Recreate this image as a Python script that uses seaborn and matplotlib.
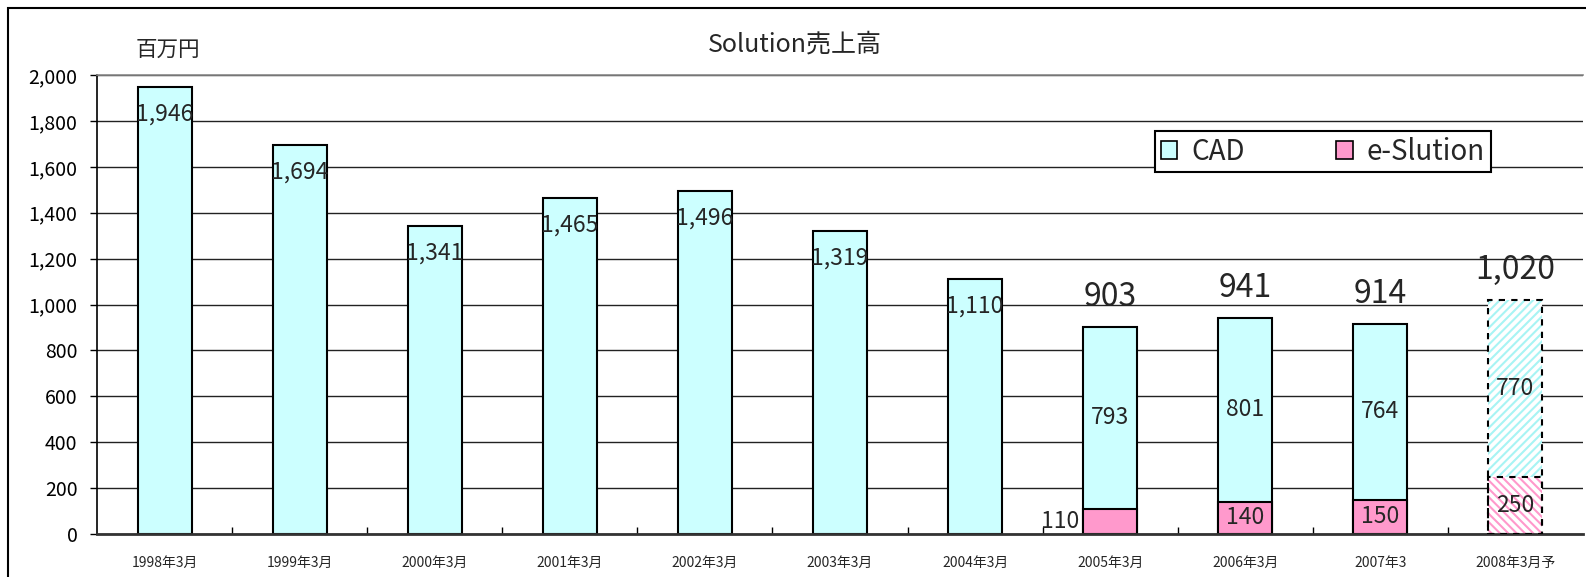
import matplotlib
matplotlib.use("Agg")
import matplotlib.pyplot as plt
import matplotlib.ticker as mticker
from matplotlib.patches import Patch, Rectangle
import seaborn as sns

# data (百万円)
periods = ["1998年3月", "1999年3月", "2000年3月", "2001年3月", "2002年3月", "2003年3月",
           "2004年3月", "2005年3月", "2006年3月", "2007年3", "2008年3月予"]
cad = [1946, 1694, 1341, 1465, 1496, 1319, 1110, 793, 801, 764, 770]
esol_periods = ["2005年3月", "2006年3月", "2007年3", "2008年3月予"]
esol = [110, 140, 150, 250]
total_periods = ["2005年3月", "2006年3月", "2007年3", "2008年3月予"]
totals = [903, 941, 914, 1020]

CAD_COLOR = "#CCFFFF"
ESOL_COLOR = "#FF99CC"

sns.set_theme(style="white")
plt.rcParams["font.family"] = ["Noto Sans CJK JP", "DejaVu Sans"]
plt.rcParams["hatch.linewidth"] = 1.5

# stacked height = cad + esol (esol is 0 where not listed)
esol_map = dict(zip(esol_periods, esol))
stack = [c + esol_map.get(p, 0) for p, c in zip(periods, cad)]

fig = plt.figure(figsize=(15.86, 5.77), dpi=100)
ax = fig.add_axes([97 / 1586, 1 - 534 / 577, 1486 / 1586, 459 / 577])

sns.barplot(x=periods, y=stack, order=periods, color=CAD_COLOR, saturation=1,
            width=0.4, edgecolor="black", linewidth=1.5, ax=ax)
sns.barplot(x=esol_periods, y=esol, order=periods, color=ESOL_COLOR, saturation=1,
            width=0.4, edgecolor="black", linewidth=1.5, ax=ax)

# forecast bar (last one): hatched, dashed outline
cad_bars = ax.containers[0]
esol_bars = ax.containers[1]
for bar, hc, hatch in [(cad_bars[-1], "#A8F4F4", "////"), (esol_bars[-1], "#FF99CC", "\\\\\\\\")]:
    bar.set_facecolor("white")
    bar.set_edgecolor(hc)
    bar.set_hatch(hatch)
    bar.set_linewidth(0)
    ax.add_patch(Rectangle(bar.get_xy(), bar.get_width(), bar.get_height(), fill=False,
                           edgecolor="black", linestyle=(0, (3, 3)), linewidth=1.5, zorder=5))

ax.set_ylim(0, 2000)
ax.set_xlim(-0.5, len(periods) - 0.5)
ax.set_yticks(range(0, 2001, 200))
ax.yaxis.set_major_formatter(mticker.StrMethodFormatter("{x:,.0f}"))
ax.grid(axis="y", color="#222222", linewidth=1)
ax.set_axisbelow(True)

ax.spines["right"].set_visible(False)
ax.spines["top"].set_color("#888888")
ax.spines["top"].set_linewidth(1.2)
ax.spines["left"].set_color("black")
ax.spines["left"].set_linewidth(1.2)
ax.spines["bottom"].set_color("#333333")
ax.spines["bottom"].set_linewidth(2)

ax.tick_params(axis="y", which="major", left=True, length=5, width=1, direction="out",
               labelsize=14, pad=9, colors="black")
ax.tick_params(axis="x", which="major", length=0, labelsize=10, pad=16)
ax.set_xticks(range(len(periods)))
ax.set_xticklabels(periods)
ax.set_xticks([i + 0.5 for i in range(len(periods) - 1)], minor=True)
ax.tick_params(axis="x", which="minor", bottom=True, length=5, width=1, direction="in",
               color="black")
ax.set_xlabel("")
ax.set_ylabel("")

# CAD labels: inside top for single bars, centered for stacked bars
for i, (p, c) in enumerate(zip(periods, cad)):
    e = esol_map.get(p, 0)
    if e == 0:
        ax.annotate(f"{c:,}", (i, c), xytext=(0, -27), textcoords="offset pixels",
                    ha="center", va="center", fontsize=16.5)
    else:
        ax.text(i, e + c / 2, f"{c:,}", ha="center", va="center", fontsize=16.5)

# e-Slution labels
for p, e in zip(esol_periods, esol):
    i = periods.index(p)
    if e < 120:
        ax.annotate(f"{e:,}", (i - 0.2, e / 2), xytext=(-4, 0), textcoords="offset pixels",
                    ha="right", va="center", fontsize=16.5)
    else:
        ax.text(i, e / 2, f"{e:,}", ha="center", va="center", fontsize=16.5)

# totals above stacked bars
for p, t in zip(total_periods, totals):
    i = periods.index(p)
    ax.annotate(f"{t:,}", (i, t), xytext=(0, 30), textcoords="offset pixels",
                ha="center", va="center", fontsize=23)

handles = [Patch(facecolor=CAD_COLOR, edgecolor="black", linewidth=1.2, label="CAD"),
           Patch(facecolor=ESOL_COLOR, edgecolor="black", linewidth=1.2, label="e-Slution")]
leg = fig.legend(handles=handles, loc="upper left", bbox_to_anchor=(1155 / 1586, 1 - 131 / 577),
                 ncol=2, fontsize=20, frameon=True, fancybox=False, handlelength=0.6,
                 handleheight=0.6, handletextpad=0.5, columnspacing=3.3, borderpad=0.2,
                 borderaxespad=0)
leg.get_frame().set_edgecolor("black")
leg.get_frame().set_linewidth(1.5)
leg.get_frame().set_alpha(1)

fig.text(795 / 1586, 1 - 45 / 577, "Solution売上高", ha="center", va="center", fontsize=18)
fig.text(168 / 1586, 1 - 50 / 577, "百万円", ha="center", va="center", fontsize=15.5)

# outer chart frame
fig.patches.append(Rectangle((8 / 1586, -0.1), 1.2, 1 - 8 / 577 + 0.1, fill=False,
                             edgecolor="black", linewidth=1.5, transform=fig.transFigure,
                             figure=fig))

fig.savefig("out.png", dpi=100)
